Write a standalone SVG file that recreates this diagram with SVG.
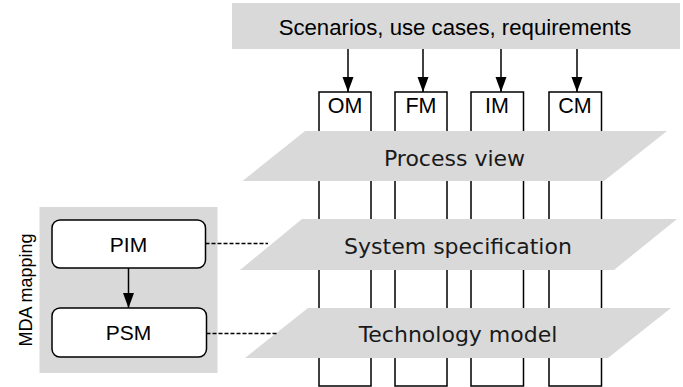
<svg xmlns="http://www.w3.org/2000/svg" width="683" height="387" viewBox="0 0 683 387">
  <style>
    .band { fill: #d9d9d9; stroke: none; }
    .col { fill: #ffffff; stroke: #000000; stroke-width: 1.5; }
    .model { fill: #ffffff; stroke: #000000; stroke-width: 1.5; }
    .sans { font-family: "Liberation Sans", Arial, sans-serif; fill: #000000; }
    .verd { font-family: "DejaVu Sans", Verdana, sans-serif; fill: #1a1a1a; font-size: 22px; }
    .arrow { stroke: #000000; stroke-width: 1.5; fill: none; marker-end: url(#head); }
    .dash { stroke: #000000; stroke-width: 1.5; fill: none; stroke-dasharray: 4 2; }
  </style>
  <defs>
    <marker id="head" markerUnits="userSpaceOnUse" markerWidth="16" markerHeight="12" refX="15" refY="5.5" orient="auto">
      <path d="M0,0 L15,5.5 L0,11 Z" fill="#000000"/>
    </marker>
  </defs>

  <rect width="683" height="387" fill="#ffffff"/>

  <!-- requirements source -->
  <g id="requirements">
    <rect class="band" x="232" y="3" width="448" height="46"/>
    <text class="sans" x="455" y="35" font-size="22.2" text-anchor="middle">Scenarios, use cases, requirements</text>
  </g>

  <!-- model columns -->
  <g id="col-om">
    <rect class="col" x="319" y="92" width="52" height="294"/>
    <text class="sans" x="345" y="113" font-size="21.5" text-anchor="middle">OM</text>
  </g>
  <g id="col-fm">
    <rect class="col" x="395" y="92" width="52" height="294"/>
    <text class="sans" x="421" y="113" font-size="21.5" text-anchor="middle">FM</text>
  </g>
  <g id="col-im">
    <rect class="col" x="471" y="92" width="52.5" height="294"/>
    <text class="sans" x="497" y="113" font-size="21.5" text-anchor="middle">IM</text>
  </g>
  <g id="col-cm">
    <rect class="col" x="549" y="92" width="52.5" height="294"/>
    <text class="sans" x="575" y="113" font-size="21.5" text-anchor="middle">CM</text>
  </g>

  <!-- abstraction layers -->
  <g id="process-view">
    <polygon class="band" points="305,131 667,131 604,181 242.5,181"/>
    <text class="verd" x="454.5" y="165.5" text-anchor="middle">Process view</text>
  </g>
  <g id="system-specification">
    <polygon class="band" points="302,219 677,219 614,270 240,270"/>
    <text class="verd" x="458" y="253.5" text-anchor="middle">System specification</text>
  </g>
  <g id="technology-model">
    <polygon class="band" points="308,308 671,308 608,358 245,358"/>
    <text class="verd" x="458" y="341.5" text-anchor="middle">Technology model</text>
  </g>

  <!-- MDA mapping panel -->
  <g id="mda-mapping">
    <rect class="band" x="39.5" y="207" width="178" height="166"/>
    <text class="sans" transform="translate(31.5,290) rotate(-90)" font-size="18" text-anchor="middle">MDA mapping</text>
  </g>
  <g id="pim">
    <rect class="model" x="52" y="220" width="153.5" height="48" rx="8" ry="8"/>
    <text class="sans" x="128.5" y="252.3" font-size="21" text-anchor="middle">PIM</text>
  </g>
  <g id="psm">
    <rect class="model" x="52" y="308" width="154.5" height="49" rx="8" ry="8"/>
    <text class="sans" x="128.5" y="339.5" font-size="21" text-anchor="middle">PSM</text>
  </g>

  <!-- connectors -->
  <g id="connectors">
    <line class="arrow" x1="348" y1="49" x2="348" y2="92"/>
    <line class="arrow" x1="423" y1="49" x2="423" y2="92"/>
    <line class="arrow" x1="501" y1="49" x2="501" y2="92"/>
    <line class="arrow" x1="577" y1="49" x2="577" y2="92"/>
    <line class="arrow" x1="128.5" y1="268" x2="128.5" y2="308"/>
    <line class="dash" x1="205.5" y1="243.5" x2="268" y2="243.5"/>
    <line class="dash" x1="206.5" y1="333.5" x2="277" y2="333.5"/>
  </g>
</svg>
